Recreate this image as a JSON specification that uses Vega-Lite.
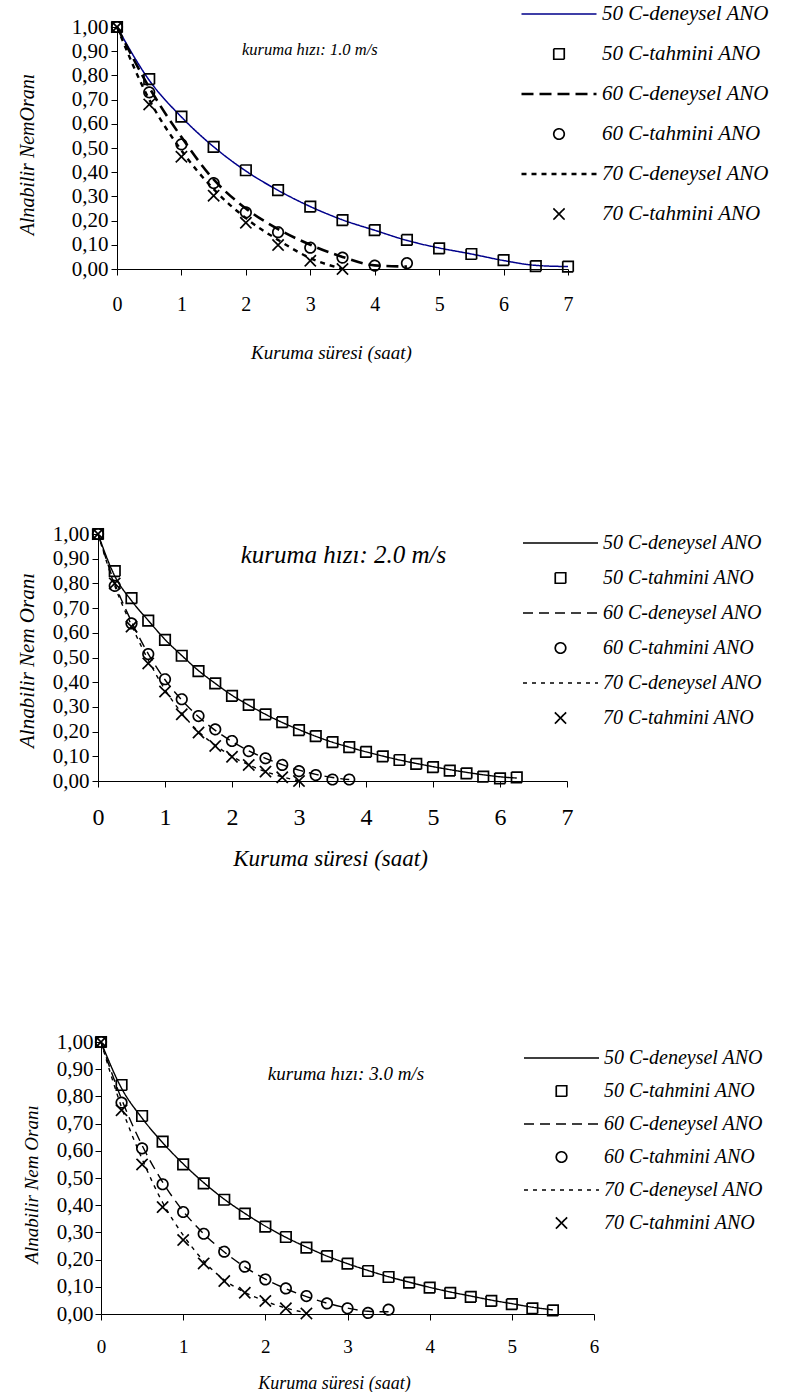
{
  "$schema": "https://vega.github.io/schema/vega-lite/v6.json",
  "background": "white",
  "padding": {"left": 15, "top": 2, "right": 0, "bottom": 0},
  "spacing": 161,
  "config": {
    "view": {"stroke": null},
    "axis": {"domainColor": "black", "tickColor": "black", "domainWidth": 1, "tickWidth": 1, "tickSize": 6, "grid": false, "labelFont": "Liberation Serif", "labelColor": "black", "titleFont": "Liberation Serif", "titleFontStyle": "italic", "titleFontWeight": "normal", "titleColor": "black", "labelFlush": false, "labelOverlap": false, "labelBound": false}
  },
  "resolve": {"scale": {"stroke": "independent", "strokeDash": "independent", "strokeWidth": "independent", "shape": "independent"}, "legend": {"shape": "independent", "stroke": "independent", "strokeDash": "independent", "strokeWidth": "independent"}},
  "datasets": {
    "p1": [
      {"s": "50 C-deneysel ANO", "t": 0, "v": 1.0}, {"s": "50 C-deneysel ANO", "t": 0.5, "v": 0.78}, {"s": "50 C-deneysel ANO", "t": 1, "v": 0.628}, {"s": "50 C-deneysel ANO", "t": 1.5, "v": 0.505}, {"s": "50 C-deneysel ANO", "t": 2, "v": 0.405}, {"s": "50 C-deneysel ANO", "t": 2.5, "v": 0.325}, {"s": "50 C-deneysel ANO", "t": 3, "v": 0.258}, {"s": "50 C-deneysel ANO", "t": 3.5, "v": 0.203}, {"s": "50 C-deneysel ANO", "t": 4, "v": 0.16}, {"s": "50 C-deneysel ANO", "t": 4.5, "v": 0.118}, {"s": "50 C-deneysel ANO", "t": 5, "v": 0.087}, {"s": "50 C-deneysel ANO", "t": 5.5, "v": 0.062}, {"s": "50 C-deneysel ANO", "t": 6, "v": 0.035}, {"s": "50 C-deneysel ANO", "t": 6.5, "v": 0.015}, {"s": "50 C-deneysel ANO", "t": 7, "v": 0.01},
      {"s": "50 C-tahmini ANO", "t": 0, "v": 1.0}, {"s": "50 C-tahmini ANO", "t": 0.5, "v": 0.785}, {"s": "50 C-tahmini ANO", "t": 1, "v": 0.63}, {"s": "50 C-tahmini ANO", "t": 1.5, "v": 0.505}, {"s": "50 C-tahmini ANO", "t": 2, "v": 0.408}, {"s": "50 C-tahmini ANO", "t": 2.5, "v": 0.326}, {"s": "50 C-tahmini ANO", "t": 3, "v": 0.258}, {"s": "50 C-tahmini ANO", "t": 3.5, "v": 0.202}, {"s": "50 C-tahmini ANO", "t": 4, "v": 0.161}, {"s": "50 C-tahmini ANO", "t": 4.5, "v": 0.12}, {"s": "50 C-tahmini ANO", "t": 5, "v": 0.085}, {"s": "50 C-tahmini ANO", "t": 5.5, "v": 0.062}, {"s": "50 C-tahmini ANO", "t": 6, "v": 0.037}, {"s": "50 C-tahmini ANO", "t": 6.5, "v": 0.012}, {"s": "50 C-tahmini ANO", "t": 7, "v": 0.01},
      {"s": "60 C-deneysel ANO", "t": 0, "v": 1.0}, {"s": "60 C-deneysel ANO", "t": 0.5, "v": 0.75}, {"s": "60 C-deneysel ANO", "t": 1, "v": 0.545}, {"s": "60 C-deneysel ANO", "t": 1.5, "v": 0.37}, {"s": "60 C-deneysel ANO", "t": 2, "v": 0.25}, {"s": "60 C-deneysel ANO", "t": 2.5, "v": 0.165}, {"s": "60 C-deneysel ANO", "t": 3, "v": 0.1}, {"s": "60 C-deneysel ANO", "t": 3.5, "v": 0.05}, {"s": "60 C-deneysel ANO", "t": 4, "v": 0.015}, {"s": "60 C-deneysel ANO", "t": 4.5, "v": 0.01},
      {"s": "60 C-tahmini ANO", "t": 0, "v": 1.0}, {"s": "60 C-tahmini ANO", "t": 0.5, "v": 0.73}, {"s": "60 C-tahmini ANO", "t": 1, "v": 0.515}, {"s": "60 C-tahmini ANO", "t": 1.5, "v": 0.355}, {"s": "60 C-tahmini ANO", "t": 2, "v": 0.234}, {"s": "60 C-tahmini ANO", "t": 2.5, "v": 0.152}, {"s": "60 C-tahmini ANO", "t": 3, "v": 0.088}, {"s": "60 C-tahmini ANO", "t": 3.5, "v": 0.047}, {"s": "60 C-tahmini ANO", "t": 4, "v": 0.014}, {"s": "60 C-tahmini ANO", "t": 4.5, "v": 0.024},
      {"s": "70 C-deneysel ANO", "t": 0, "v": 1.0}, {"s": "70 C-deneysel ANO", "t": 0.5, "v": 0.7}, {"s": "70 C-deneysel ANO", "t": 1, "v": 0.49}, {"s": "70 C-deneysel ANO", "t": 1.5, "v": 0.33}, {"s": "70 C-deneysel ANO", "t": 2, "v": 0.21}, {"s": "70 C-deneysel ANO", "t": 2.5, "v": 0.12}, {"s": "70 C-deneysel ANO", "t": 3, "v": 0.045}, {"s": "70 C-deneysel ANO", "t": 3.5, "v": 0.0},
      {"s": "70 C-tahmini ANO", "t": 0, "v": 1.0}, {"s": "70 C-tahmini ANO", "t": 0.5, "v": 0.68}, {"s": "70 C-tahmini ANO", "t": 1, "v": 0.464}, {"s": "70 C-tahmini ANO", "t": 1.5, "v": 0.303}, {"s": "70 C-tahmini ANO", "t": 2, "v": 0.191}, {"s": "70 C-tahmini ANO", "t": 2.5, "v": 0.099}, {"s": "70 C-tahmini ANO", "t": 3, "v": 0.034}, {"s": "70 C-tahmini ANO", "t": 3.5, "v": 0.0}
    ],
    "p2": [
      {"s": "50 C-deneysel ANO", "t": 0, "v": 1.0}, {"s": "50 C-deneysel ANO", "t": 0.25, "v": 0.83}, {"s": "50 C-deneysel ANO", "t": 0.5, "v": 0.73}, {"s": "50 C-deneysel ANO", "t": 0.75, "v": 0.65}, {"s": "50 C-deneysel ANO", "t": 1, "v": 0.573}, {"s": "50 C-deneysel ANO", "t": 1.25, "v": 0.508}, {"s": "50 C-deneysel ANO", "t": 1.5, "v": 0.447}, {"s": "50 C-deneysel ANO", "t": 1.75, "v": 0.395}, {"s": "50 C-deneysel ANO", "t": 2, "v": 0.347}, {"s": "50 C-deneysel ANO", "t": 2.25, "v": 0.307}, {"s": "50 C-deneysel ANO", "t": 2.5, "v": 0.27}, {"s": "50 C-deneysel ANO", "t": 2.75, "v": 0.237}, {"s": "50 C-deneysel ANO", "t": 3, "v": 0.208}, {"s": "50 C-deneysel ANO", "t": 3.25, "v": 0.181}, {"s": "50 C-deneysel ANO", "t": 3.5, "v": 0.157}, {"s": "50 C-deneysel ANO", "t": 3.75, "v": 0.137}, {"s": "50 C-deneysel ANO", "t": 4, "v": 0.118}, {"s": "50 C-deneysel ANO", "t": 4.25, "v": 0.101}, {"s": "50 C-deneysel ANO", "t": 4.5, "v": 0.085}, {"s": "50 C-deneysel ANO", "t": 4.75, "v": 0.071}, {"s": "50 C-deneysel ANO", "t": 5, "v": 0.058}, {"s": "50 C-deneysel ANO", "t": 5.25, "v": 0.046}, {"s": "50 C-deneysel ANO", "t": 5.5, "v": 0.035}, {"s": "50 C-deneysel ANO", "t": 5.75, "v": 0.025}, {"s": "50 C-deneysel ANO", "t": 6, "v": 0.017}, {"s": "50 C-deneysel ANO", "t": 6.25, "v": 0.012},
      {"s": "50 C-tahmini ANO", "t": 0, "v": 1.0}, {"s": "50 C-tahmini ANO", "t": 0.25, "v": 0.85}, {"s": "50 C-tahmini ANO", "t": 0.5, "v": 0.74}, {"s": "50 C-tahmini ANO", "t": 0.75, "v": 0.649}, {"s": "50 C-tahmini ANO", "t": 1, "v": 0.571}, {"s": "50 C-tahmini ANO", "t": 1.25, "v": 0.507}, {"s": "50 C-tahmini ANO", "t": 1.5, "v": 0.445}, {"s": "50 C-tahmini ANO", "t": 1.75, "v": 0.395}, {"s": "50 C-tahmini ANO", "t": 2, "v": 0.345}, {"s": "50 C-tahmini ANO", "t": 2.25, "v": 0.308}, {"s": "50 C-tahmini ANO", "t": 2.5, "v": 0.27}, {"s": "50 C-tahmini ANO", "t": 2.75, "v": 0.238}, {"s": "50 C-tahmini ANO", "t": 3, "v": 0.206}, {"s": "50 C-tahmini ANO", "t": 3.25, "v": 0.182}, {"s": "50 C-tahmini ANO", "t": 3.5, "v": 0.157}, {"s": "50 C-tahmini ANO", "t": 3.75, "v": 0.137}, {"s": "50 C-tahmini ANO", "t": 4, "v": 0.118}, {"s": "50 C-tahmini ANO", "t": 4.25, "v": 0.1}, {"s": "50 C-tahmini ANO", "t": 4.5, "v": 0.085}, {"s": "50 C-tahmini ANO", "t": 4.75, "v": 0.069}, {"s": "50 C-tahmini ANO", "t": 5, "v": 0.056}, {"s": "50 C-tahmini ANO", "t": 5.25, "v": 0.042}, {"s": "50 C-tahmini ANO", "t": 5.5, "v": 0.031}, {"s": "50 C-tahmini ANO", "t": 5.75, "v": 0.018}, {"s": "50 C-tahmini ANO", "t": 6, "v": 0.011}, {"s": "50 C-tahmini ANO", "t": 6.25, "v": 0.015},
      {"s": "60 C-deneysel ANO", "t": 0, "v": 1.0}, {"s": "60 C-deneysel ANO", "t": 0.25, "v": 0.8}, {"s": "60 C-deneysel ANO", "t": 0.5, "v": 0.645}, {"s": "60 C-deneysel ANO", "t": 0.75, "v": 0.515}, {"s": "60 C-deneysel ANO", "t": 1, "v": 0.41}, {"s": "60 C-deneysel ANO", "t": 1.25, "v": 0.328}, {"s": "60 C-deneysel ANO", "t": 1.5, "v": 0.26}, {"s": "60 C-deneysel ANO", "t": 1.75, "v": 0.205}, {"s": "60 C-deneysel ANO", "t": 2, "v": 0.16}, {"s": "60 C-deneysel ANO", "t": 2.25, "v": 0.122}, {"s": "60 C-deneysel ANO", "t": 2.5, "v": 0.092}, {"s": "60 C-deneysel ANO", "t": 2.75, "v": 0.066}, {"s": "60 C-deneysel ANO", "t": 3, "v": 0.044}, {"s": "60 C-deneysel ANO", "t": 3.25, "v": 0.027}, {"s": "60 C-deneysel ANO", "t": 3.5, "v": 0.014}, {"s": "60 C-deneysel ANO", "t": 3.75, "v": 0.006},
      {"s": "60 C-tahmini ANO", "t": 0, "v": 1.0}, {"s": "60 C-tahmini ANO", "t": 0.25, "v": 0.79}, {"s": "60 C-tahmini ANO", "t": 0.5, "v": 0.638}, {"s": "60 C-tahmini ANO", "t": 0.75, "v": 0.514}, {"s": "60 C-tahmini ANO", "t": 1, "v": 0.412}, {"s": "60 C-tahmini ANO", "t": 1.25, "v": 0.331}, {"s": "60 C-tahmini ANO", "t": 1.5, "v": 0.263}, {"s": "60 C-tahmini ANO", "t": 1.75, "v": 0.209}, {"s": "60 C-tahmini ANO", "t": 2, "v": 0.162}, {"s": "60 C-tahmini ANO", "t": 2.25, "v": 0.121}, {"s": "60 C-tahmini ANO", "t": 2.5, "v": 0.092}, {"s": "60 C-tahmini ANO", "t": 2.75, "v": 0.065}, {"s": "60 C-tahmini ANO", "t": 3, "v": 0.04}, {"s": "60 C-tahmini ANO", "t": 3.25, "v": 0.024}, {"s": "60 C-tahmini ANO", "t": 3.5, "v": 0.006}, {"s": "60 C-tahmini ANO", "t": 3.75, "v": 0.006},
      {"s": "70 C-deneysel ANO", "t": 0, "v": 1.0}, {"s": "70 C-deneysel ANO", "t": 0.25, "v": 0.79}, {"s": "70 C-deneysel ANO", "t": 0.5, "v": 0.63}, {"s": "70 C-deneysel ANO", "t": 0.75, "v": 0.49}, {"s": "70 C-deneysel ANO", "t": 1, "v": 0.37}, {"s": "70 C-deneysel ANO", "t": 1.25, "v": 0.275}, {"s": "70 C-deneysel ANO", "t": 1.5, "v": 0.2}, {"s": "70 C-deneysel ANO", "t": 1.75, "v": 0.145}, {"s": "70 C-deneysel ANO", "t": 2, "v": 0.1}, {"s": "70 C-deneysel ANO", "t": 2.25, "v": 0.065}, {"s": "70 C-deneysel ANO", "t": 2.5, "v": 0.038}, {"s": "70 C-deneysel ANO", "t": 2.75, "v": 0.017}, {"s": "70 C-deneysel ANO", "t": 3, "v": 0.0},
      {"s": "70 C-tahmini ANO", "t": 0, "v": 1.0}, {"s": "70 C-tahmini ANO", "t": 0.25, "v": 0.8}, {"s": "70 C-tahmini ANO", "t": 0.5, "v": 0.625}, {"s": "70 C-tahmini ANO", "t": 0.75, "v": 0.476}, {"s": "70 C-tahmini ANO", "t": 1, "v": 0.362}, {"s": "70 C-tahmini ANO", "t": 1.25, "v": 0.27}, {"s": "70 C-tahmini ANO", "t": 1.5, "v": 0.196}, {"s": "70 C-tahmini ANO", "t": 1.75, "v": 0.142}, {"s": "70 C-tahmini ANO", "t": 2, "v": 0.098}, {"s": "70 C-tahmini ANO", "t": 2.25, "v": 0.065}, {"s": "70 C-tahmini ANO", "t": 2.5, "v": 0.038}, {"s": "70 C-tahmini ANO", "t": 2.75, "v": 0.015}, {"s": "70 C-tahmini ANO", "t": 3, "v": 0.0}
    ],
    "p3": [
      {"s": "50 C-deneysel ANO", "t": 0, "v": 1.0}, {"s": "50 C-deneysel ANO", "t": 0.25, "v": 0.83}, {"s": "50 C-deneysel ANO", "t": 0.5, "v": 0.72}, {"s": "50 C-deneysel ANO", "t": 0.75, "v": 0.63}, {"s": "50 C-deneysel ANO", "t": 1, "v": 0.552}, {"s": "50 C-deneysel ANO", "t": 1.25, "v": 0.483}, {"s": "50 C-deneysel ANO", "t": 1.5, "v": 0.422}, {"s": "50 C-deneysel ANO", "t": 1.75, "v": 0.37}, {"s": "50 C-deneysel ANO", "t": 2, "v": 0.323}, {"s": "50 C-deneysel ANO", "t": 2.25, "v": 0.282}, {"s": "50 C-deneysel ANO", "t": 2.5, "v": 0.246}, {"s": "50 C-deneysel ANO", "t": 2.75, "v": 0.213}, {"s": "50 C-deneysel ANO", "t": 3, "v": 0.185}, {"s": "50 C-deneysel ANO", "t": 3.25, "v": 0.16}, {"s": "50 C-deneysel ANO", "t": 3.5, "v": 0.137}, {"s": "50 C-deneysel ANO", "t": 3.75, "v": 0.117}, {"s": "50 C-deneysel ANO", "t": 4, "v": 0.098}, {"s": "50 C-deneysel ANO", "t": 4.25, "v": 0.081}, {"s": "50 C-deneysel ANO", "t": 4.5, "v": 0.066}, {"s": "50 C-deneysel ANO", "t": 4.75, "v": 0.051}, {"s": "50 C-deneysel ANO", "t": 5, "v": 0.038}, {"s": "50 C-deneysel ANO", "t": 5.25, "v": 0.025}, {"s": "50 C-deneysel ANO", "t": 5.5, "v": 0.015},
      {"s": "50 C-tahmini ANO", "t": 0, "v": 1.0}, {"s": "50 C-tahmini ANO", "t": 0.25, "v": 0.842}, {"s": "50 C-tahmini ANO", "t": 0.5, "v": 0.728}, {"s": "50 C-tahmini ANO", "t": 0.75, "v": 0.634}, {"s": "50 C-tahmini ANO", "t": 1, "v": 0.55}, {"s": "50 C-tahmini ANO", "t": 1.25, "v": 0.48}, {"s": "50 C-tahmini ANO", "t": 1.5, "v": 0.42}, {"s": "50 C-tahmini ANO", "t": 1.75, "v": 0.369}, {"s": "50 C-tahmini ANO", "t": 2, "v": 0.321}, {"s": "50 C-tahmini ANO", "t": 2.25, "v": 0.283}, {"s": "50 C-tahmini ANO", "t": 2.5, "v": 0.244}, {"s": "50 C-tahmini ANO", "t": 2.75, "v": 0.213}, {"s": "50 C-tahmini ANO", "t": 3, "v": 0.185}, {"s": "50 C-tahmini ANO", "t": 3.25, "v": 0.158}, {"s": "50 C-tahmini ANO", "t": 3.5, "v": 0.136}, {"s": "50 C-tahmini ANO", "t": 3.75, "v": 0.115}, {"s": "50 C-tahmini ANO", "t": 4, "v": 0.097}, {"s": "50 C-tahmini ANO", "t": 4.25, "v": 0.078}, {"s": "50 C-tahmini ANO", "t": 4.5, "v": 0.063}, {"s": "50 C-tahmini ANO", "t": 4.75, "v": 0.048}, {"s": "50 C-tahmini ANO", "t": 5, "v": 0.036}, {"s": "50 C-tahmini ANO", "t": 5.25, "v": 0.021}, {"s": "50 C-tahmini ANO", "t": 5.5, "v": 0.013},
      {"s": "60 C-deneysel ANO", "t": 0, "v": 1.0}, {"s": "60 C-deneysel ANO", "t": 0.25, "v": 0.79}, {"s": "60 C-deneysel ANO", "t": 0.5, "v": 0.62}, {"s": "60 C-deneysel ANO", "t": 0.75, "v": 0.485}, {"s": "60 C-deneysel ANO", "t": 1, "v": 0.378}, {"s": "60 C-deneysel ANO", "t": 1.25, "v": 0.295}, {"s": "60 C-deneysel ANO", "t": 1.5, "v": 0.228}, {"s": "60 C-deneysel ANO", "t": 1.75, "v": 0.173}, {"s": "60 C-deneysel ANO", "t": 2, "v": 0.128}, {"s": "60 C-deneysel ANO", "t": 2.25, "v": 0.093}, {"s": "60 C-deneysel ANO", "t": 2.5, "v": 0.064}, {"s": "60 C-deneysel ANO", "t": 2.75, "v": 0.04}, {"s": "60 C-deneysel ANO", "t": 3, "v": 0.022}, {"s": "60 C-deneysel ANO", "t": 3.25, "v": 0.01}, {"s": "60 C-deneysel ANO", "t": 3.5, "v": 0.008},
      {"s": "60 C-tahmini ANO", "t": 0, "v": 1.0}, {"s": "60 C-tahmini ANO", "t": 0.25, "v": 0.777}, {"s": "60 C-tahmini ANO", "t": 0.5, "v": 0.609}, {"s": "60 C-tahmini ANO", "t": 0.75, "v": 0.477}, {"s": "60 C-tahmini ANO", "t": 1, "v": 0.375}, {"s": "60 C-tahmini ANO", "t": 1.25, "v": 0.295}, {"s": "60 C-tahmini ANO", "t": 1.5, "v": 0.229}, {"s": "60 C-tahmini ANO", "t": 1.75, "v": 0.174}, {"s": "60 C-tahmini ANO", "t": 2, "v": 0.127}, {"s": "60 C-tahmini ANO", "t": 2.25, "v": 0.094}, {"s": "60 C-tahmini ANO", "t": 2.5, "v": 0.066}, {"s": "60 C-tahmini ANO", "t": 2.75, "v": 0.039}, {"s": "60 C-tahmini ANO", "t": 3, "v": 0.021}, {"s": "60 C-tahmini ANO", "t": 3.25, "v": 0.004}, {"s": "60 C-tahmini ANO", "t": 3.5, "v": 0.016},
      {"s": "70 C-deneysel ANO", "t": 0, "v": 1.0}, {"s": "70 C-deneysel ANO", "t": 0.25, "v": 0.76}, {"s": "70 C-deneysel ANO", "t": 0.5, "v": 0.57}, {"s": "70 C-deneysel ANO", "t": 0.75, "v": 0.41}, {"s": "70 C-deneysel ANO", "t": 1, "v": 0.29}, {"s": "70 C-deneysel ANO", "t": 1.25, "v": 0.195}, {"s": "70 C-deneysel ANO", "t": 1.5, "v": 0.125}, {"s": "70 C-deneysel ANO", "t": 1.75, "v": 0.08}, {"s": "70 C-deneysel ANO", "t": 2, "v": 0.047}, {"s": "70 C-deneysel ANO", "t": 2.25, "v": 0.022}, {"s": "70 C-deneysel ANO", "t": 2.5, "v": 0.004},
      {"s": "70 C-tahmini ANO", "t": 0, "v": 1.0}, {"s": "70 C-tahmini ANO", "t": 0.25, "v": 0.749}, {"s": "70 C-tahmini ANO", "t": 0.5, "v": 0.55}, {"s": "70 C-tahmini ANO", "t": 0.75, "v": 0.393}, {"s": "70 C-tahmini ANO", "t": 1, "v": 0.272}, {"s": "70 C-tahmini ANO", "t": 1.25, "v": 0.186}, {"s": "70 C-tahmini ANO", "t": 1.5, "v": 0.121}, {"s": "70 C-tahmini ANO", "t": 1.75, "v": 0.078}, {"s": "70 C-tahmini ANO", "t": 2, "v": 0.048}, {"s": "70 C-tahmini ANO", "t": 2.25, "v": 0.021}, {"s": "70 C-tahmini ANO", "t": 2.5, "v": 0.002}
    ]
  },
  "vconcat": [
    {
      "width": 470, "height": 242,
      "layer": [
        {
          "data": {"name": "p1"},
          "encoding": {
            "x": {"field": "t", "type": "quantitative", "scale": {"domain": [0, 7], "nice": false, "range": [19, 470]}, "axis": {"values": [0, 1, 2, 3, 4, 5, 6, 7], "format": "d", "labelOverlap": false, "title": "Kuruma süresi (saat)", "labelFontSize": 20, "labelPadding": 19, "titleFontSize": 19, "titleX": 233, "titleY": 83, "titleBaseline": "middle"}},
            "y": {"field": "v", "type": "quantitative", "scale": {"domain": [0, 1], "nice": false}, "axis": {"offset": -19, "values": [0, 0.1, 0.2, 0.3, 0.4, 0.5, 0.6, 0.7, 0.8, 0.9, 1], "labelOverlap": false, "labelExpr": "replace(format(datum.value, '.2f'), '.', ',')", "labelFontSize": 21, "labelPadding": 3, "title": "Alnabilir NemOranı", "titleFontSize": 20, "titleX": -90, "titleY": 127, "titleBaseline": "middle"}},
            "stroke": {"field": "s", "type": "nominal", "scale": {"domain": ["50 C-deneysel ANO", "50 C-tahmini ANO", "60 C-deneysel ANO", "60 C-tahmini ANO", "70 C-deneysel ANO", "70 C-tahmini ANO"], "range": ["#00008b", "#000000", "#000000", "#000000", "#000000", "#000000"]},
              "legend": {"title": null, "orient": "none", "legendX": 422, "legendY": -25, "padding": 0, "symbolSize": 5625, "clipHeight": 24, "rowPadding": 16, "labelFont": "Liberation Serif", "labelFontStyle": "italic", "labelFontSize": 21, "labelColor": "black", "labelOffset": 4, "labelLimit": 400}},
            "strokeDash": {"field": "s", "type": "nominal", "scale": {"domain": ["50 C-deneysel ANO", "50 C-tahmini ANO", "60 C-deneysel ANO", "60 C-tahmini ANO", "70 C-deneysel ANO", "70 C-tahmini ANO"], "range": [[1, 0], [1, 0], [12, 6], [1, 0], [5, 5], [1, 0]]},
              "legend": {"title": null, "orient": "none", "legendX": 422, "legendY": -25, "padding": 0, "symbolSize": 5625, "clipHeight": 24, "rowPadding": 16, "labelFont": "Liberation Serif", "labelFontStyle": "italic", "labelFontSize": 21, "labelColor": "black", "labelOffset": 4, "labelLimit": 400}},
            "strokeWidth": {"field": "s", "type": "nominal", "scale": {"type": "ordinal", "domain": ["50 C-deneysel ANO", "50 C-tahmini ANO", "60 C-deneysel ANO", "60 C-tahmini ANO", "70 C-deneysel ANO", "70 C-tahmini ANO"], "range": [1.5, 1.7, 2.6, 1.7, 2.4, 1.7]},
              "legend": {"title": null, "orient": "none", "legendX": 422, "legendY": -25, "padding": 0, "symbolSize": 5625, "clipHeight": 24, "rowPadding": 16, "labelFont": "Liberation Serif", "labelFontStyle": "italic", "labelFontSize": 21, "labelColor": "black", "labelOffset": 4, "labelLimit": 400}}
          },
          "layer": [
            {
              "transform": [{"filter": "indexof(datum.s, 'deneysel') >= 0"}],
              "mark": {"type": "line", "interpolate": "monotone"}
            },
            {
              "transform": [{"filter": "indexof(datum.s, 'tahmini') >= 0"}],
              "mark": {"type": "point", "filled": false, "size": 5625, "opacity": 1},
              "encoding": {
                "shape": {"field": "s", "type": "nominal",
                  "scale": {"domain": ["50 C-deneysel ANO", "50 C-tahmini ANO", "60 C-deneysel ANO", "60 C-tahmini ANO", "70 C-deneysel ANO", "70 C-tahmini ANO"],
                    "range": ["M-1,0L1,0", "M-0.14,-0.14L0.14,-0.14L0.14,0.14L-0.14,0.14Z", "M-1,0L1,0", "M0.14,0A0.14,0.14,0,1,1,-0.14,0A0.14,0.14,0,1,1,0.14,0Z", "M-1,0L1,0", "M-0.15,-0.15L0.15,0.15M0.15,-0.15L-0.15,0.15"]},
                  "legend": {"title": null, "orient": "none", "legendX": 422, "legendY": -25, "padding": 0, "symbolSize": 5625, "clipHeight": 24, "rowPadding": 16, "labelFont": "Liberation Serif", "labelFontStyle": "italic", "labelFontSize": 21, "labelColor": "black", "labelOffset": 4, "labelLimit": 400}}
              }
            }
          ]
        },
        {
          "data": {"values": [{"note": "kuruma hızı: 1.0 m/s"}]},
          "mark": {"type": "text", "align": "left", "baseline": "middle", "font": "Liberation Serif", "fontStyle": "italic", "fontSize": 16.5, "color": "black"},
          "encoding": {
            "x": {"datum": 1.94, "type": "quantitative", "axis": {"values": [0, 1, 2, 3, 4, 5, 6, 7], "format": "d", "labelOverlap": false, "title": "Kuruma süresi (saat)", "labelFontSize": 20, "labelPadding": 19, "titleFontSize": 19, "titleX": 233, "titleY": 83, "titleBaseline": "middle"}},
            "y": {"datum": 0.905, "type": "quantitative", "axis": {"offset": -19, "values": [0, 0.1, 0.2, 0.3, 0.4, 0.5, 0.6, 0.7, 0.8, 0.9, 1], "labelOverlap": false, "labelExpr": "replace(format(datum.value, '.2f'), '.', ',')", "labelFontSize": 21, "labelPadding": 3, "title": "Alnabilir NemOranı", "titleFontSize": 20, "titleX": -90, "titleY": 127, "titleBaseline": "middle"}},
            "text": {"field": "note"}
          }
        }
      ]
    },
    {
      "width": 469, "height": 247,
      "layer": [
        {
          "data": {"name": "p2"},
          "encoding": {
            "x": {"field": "t", "type": "quantitative", "scale": {"domain": [0, 7], "nice": false}, "axis": {"values": [0, 1, 2, 3, 4, 5, 6, 7], "format": "d", "labelOverlap": false, "title": "Kuruma süresi (saat)", "labelFontSize": 24, "labelPadding": 18, "titleFontSize": 23, "titleX": 232, "titleY": 77, "titleBaseline": "middle"}},
            "y": {"field": "v", "type": "quantitative", "scale": {"domain": [0, 1], "nice": false}, "axis": {"values": [0, 0.1, 0.2, 0.3, 0.4, 0.5, 0.6, 0.7, 0.8, 0.9, 1], "labelOverlap": false, "labelExpr": "replace(format(datum.value, '.2f'), '.', ',')", "labelFontSize": 21, "labelPadding": 3, "title": "Alnabilir Nem Oranı", "titleFontSize": 21, "titleX": -71, "titleY": 126, "titleBaseline": "middle"}},
            "stroke": {"field": "s", "type": "nominal", "scale": {"domain": ["50 C-deneysel ANO", "50 C-tahmini ANO", "60 C-deneysel ANO", "60 C-tahmini ANO", "70 C-deneysel ANO", "70 C-tahmini ANO"], "range": ["#000000", "#000000", "#000000", "#000000", "#000000", "#000000"]},
              "legend": {"title": null, "orient": "none", "legendX": 424, "legendY": -3, "padding": 0, "symbolSize": 5625, "clipHeight": 24, "rowPadding": 11, "labelFont": "Liberation Serif", "labelFontStyle": "italic", "labelFontSize": 20, "labelColor": "black", "labelOffset": 4, "labelLimit": 400}},
            "strokeDash": {"field": "s", "type": "nominal", "scale": {"domain": ["50 C-deneysel ANO", "50 C-tahmini ANO", "60 C-deneysel ANO", "60 C-tahmini ANO", "70 C-deneysel ANO", "70 C-tahmini ANO"], "range": [[1, 0], [1, 0], [10, 6], [1, 0], [4, 5], [1, 0]]},
              "legend": {"title": null, "orient": "none", "legendX": 424, "legendY": -3, "padding": 0, "symbolSize": 5625, "clipHeight": 24, "rowPadding": 11, "labelFont": "Liberation Serif", "labelFontStyle": "italic", "labelFontSize": 20, "labelColor": "black", "labelOffset": 4, "labelLimit": 400}},
            "strokeWidth": {"field": "s", "type": "nominal", "scale": {"type": "ordinal", "domain": ["50 C-deneysel ANO", "50 C-tahmini ANO", "60 C-deneysel ANO", "60 C-tahmini ANO", "70 C-deneysel ANO", "70 C-tahmini ANO"], "range": [1.4, 1.7, 1.4, 1.7, 1.4, 1.7]},
              "legend": {"title": null, "orient": "none", "legendX": 424, "legendY": -3, "padding": 0, "symbolSize": 5625, "clipHeight": 24, "rowPadding": 11, "labelFont": "Liberation Serif", "labelFontStyle": "italic", "labelFontSize": 20, "labelColor": "black", "labelOffset": 4, "labelLimit": 400}}
          },
          "layer": [
            {
              "transform": [{"filter": "indexof(datum.s, 'deneysel') >= 0"}],
              "mark": {"type": "line", "interpolate": "monotone"}
            },
            {
              "transform": [{"filter": "indexof(datum.s, 'tahmini') >= 0"}],
              "mark": {"type": "point", "filled": false, "size": 5625, "opacity": 1},
              "encoding": {
                "shape": {"field": "s", "type": "nominal",
                  "scale": {"domain": ["50 C-deneysel ANO", "50 C-tahmini ANO", "60 C-deneysel ANO", "60 C-tahmini ANO", "70 C-deneysel ANO", "70 C-tahmini ANO"],
                    "range": ["M-1,0L1,0", "M-0.14,-0.14L0.14,-0.14L0.14,0.14L-0.14,0.14Z", "M-1,0L1,0", "M0.14,0A0.14,0.14,0,1,1,-0.14,0A0.14,0.14,0,1,1,0.14,0Z", "M-1,0L1,0", "M-0.15,-0.15L0.15,0.15M0.15,-0.15L-0.15,0.15"]},
                  "legend": {"title": null, "orient": "none", "legendX": 424, "legendY": -3, "padding": 0, "symbolSize": 5625, "clipHeight": 24, "rowPadding": 11, "labelFont": "Liberation Serif", "labelFontStyle": "italic", "labelFontSize": 20, "labelColor": "black", "labelOffset": 4, "labelLimit": 400}}
              }
            }
          ]
        },
        {
          "data": {"values": [{"note": "kuruma hızı: 2.0 m/s"}]},
          "mark": {"type": "text", "align": "left", "baseline": "middle", "font": "Liberation Serif", "fontStyle": "italic", "fontSize": 25, "color": "black"},
          "encoding": {
            "x": {"datum": 2.13, "type": "quantitative", "axis": {"values": [0, 1, 2, 3, 4, 5, 6, 7], "format": "d", "labelOverlap": false, "title": "Kuruma süresi (saat)", "labelFontSize": 24, "labelPadding": 18, "titleFontSize": 23, "titleX": 232, "titleY": 77, "titleBaseline": "middle"}},
            "y": {"datum": 0.915, "type": "quantitative", "axis": {"values": [0, 0.1, 0.2, 0.3, 0.4, 0.5, 0.6, 0.7, 0.8, 0.9, 1], "labelOverlap": false, "labelExpr": "replace(format(datum.value, '.2f'), '.', ',')", "labelFontSize": 21, "labelPadding": 3, "title": "Alnabilir Nem Oranı", "titleFontSize": 21, "titleX": -71, "titleY": 126, "titleBaseline": "middle"}},
            "text": {"field": "note"}
          }
        }
      ]
    },
    {
      "width": 496, "height": 272,
      "layer": [
        {
          "data": {"name": "p3"},
          "encoding": {
            "x": {"field": "t", "type": "quantitative", "scale": {"domain": [0, 6], "nice": false, "range": [3, 496]}, "axis": {"values": [0, 1, 2, 3, 4, 5, 6], "format": "d", "labelOverlap": false, "title": "Kuruma süresi (saat)", "labelFontSize": 19, "labelPadding": 17, "titleFontSize": 18, "titleX": 236, "titleY": 69, "titleBaseline": "middle"}},
            "y": {"field": "v", "type": "quantitative", "scale": {"domain": [0, 1], "nice": false}, "axis": {"offset": -3, "values": [0, 0.1, 0.2, 0.3, 0.4, 0.5, 0.6, 0.7, 0.8, 0.9, 1], "labelOverlap": false, "labelExpr": "replace(format(datum.value, '.2f'), '.', ',')", "labelFontSize": 21, "labelPadding": 2, "title": "Alnabilir Nem Oranı", "titleFontSize": 19, "titleX": -70, "titleY": 142, "titleBaseline": "middle"}},
            "stroke": {"field": "s", "type": "nominal", "scale": {"domain": ["50 C-deneysel ANO", "50 C-tahmini ANO", "60 C-deneysel ANO", "60 C-tahmini ANO", "70 C-deneysel ANO", "70 C-tahmini ANO"], "range": ["#000000", "#000000", "#000000", "#000000", "#000000", "#000000"]},
              "legend": {"title": null, "orient": "none", "legendX": 425, "legendY": 4, "padding": 0, "symbolSize": 5625, "clipHeight": 24, "rowPadding": 9, "labelFont": "Liberation Serif", "labelFontStyle": "italic", "labelFontSize": 20, "labelColor": "black", "labelOffset": 4, "labelLimit": 400}},
            "strokeDash": {"field": "s", "type": "nominal", "scale": {"domain": ["50 C-deneysel ANO", "50 C-tahmini ANO", "60 C-deneysel ANO", "60 C-tahmini ANO", "70 C-deneysel ANO", "70 C-tahmini ANO"], "range": [[1, 0], [1, 0], [10, 6], [1, 0], [4, 5], [1, 0]]},
              "legend": {"title": null, "orient": "none", "legendX": 425, "legendY": 4, "padding": 0, "symbolSize": 5625, "clipHeight": 24, "rowPadding": 9, "labelFont": "Liberation Serif", "labelFontStyle": "italic", "labelFontSize": 20, "labelColor": "black", "labelOffset": 4, "labelLimit": 400}},
            "strokeWidth": {"field": "s", "type": "nominal", "scale": {"type": "ordinal", "domain": ["50 C-deneysel ANO", "50 C-tahmini ANO", "60 C-deneysel ANO", "60 C-tahmini ANO", "70 C-deneysel ANO", "70 C-tahmini ANO"], "range": [1.4, 1.7, 1.4, 1.7, 1.4, 1.7]},
              "legend": {"title": null, "orient": "none", "legendX": 425, "legendY": 4, "padding": 0, "symbolSize": 5625, "clipHeight": 24, "rowPadding": 9, "labelFont": "Liberation Serif", "labelFontStyle": "italic", "labelFontSize": 20, "labelColor": "black", "labelOffset": 4, "labelLimit": 400}}
          },
          "layer": [
            {
              "transform": [{"filter": "indexof(datum.s, 'deneysel') >= 0"}],
              "mark": {"type": "line", "interpolate": "monotone"}
            },
            {
              "transform": [{"filter": "indexof(datum.s, 'tahmini') >= 0"}],
              "mark": {"type": "point", "filled": false, "size": 5625, "opacity": 1},
              "encoding": {
                "shape": {"field": "s", "type": "nominal",
                  "scale": {"domain": ["50 C-deneysel ANO", "50 C-tahmini ANO", "60 C-deneysel ANO", "60 C-tahmini ANO", "70 C-deneysel ANO", "70 C-tahmini ANO"],
                    "range": ["M-1,0L1,0", "M-0.14,-0.14L0.14,-0.14L0.14,0.14L-0.14,0.14Z", "M-1,0L1,0", "M0.14,0A0.14,0.14,0,1,1,-0.14,0A0.14,0.14,0,1,1,0.14,0Z", "M-1,0L1,0", "M-0.15,-0.15L0.15,0.15M0.15,-0.15L-0.15,0.15"]},
                  "legend": {"title": null, "orient": "none", "legendX": 425, "legendY": 4, "padding": 0, "symbolSize": 5625, "clipHeight": 24, "rowPadding": 9, "labelFont": "Liberation Serif", "labelFontStyle": "italic", "labelFontSize": 20, "labelColor": "black", "labelOffset": 4, "labelLimit": 400}}
              }
            }
          ]
        },
        {
          "data": {"values": [{"note": "kuruma hızı: 3.0 m/s"}]},
          "mark": {"type": "text", "align": "left", "baseline": "middle", "font": "Liberation Serif", "fontStyle": "italic", "fontSize": 19, "color": "black"},
          "encoding": {
            "x": {"datum": 2.03, "type": "quantitative", "axis": {"values": [0, 1, 2, 3, 4, 5, 6], "format": "d", "labelOverlap": false, "title": "Kuruma süresi (saat)", "labelFontSize": 19, "labelPadding": 17, "titleFontSize": 18, "titleX": 236, "titleY": 69, "titleBaseline": "middle"}},
            "y": {"datum": 0.882, "type": "quantitative", "axis": {"offset": -3, "values": [0, 0.1, 0.2, 0.3, 0.4, 0.5, 0.6, 0.7, 0.8, 0.9, 1], "labelOverlap": false, "labelExpr": "replace(format(datum.value, '.2f'), '.', ',')", "labelFontSize": 21, "labelPadding": 2, "title": "Alnabilir Nem Oranı", "titleFontSize": 19, "titleX": -70, "titleY": 142, "titleBaseline": "middle"}},
            "text": {"field": "note"}
          }
        }
      ]
    }
  ]
}
